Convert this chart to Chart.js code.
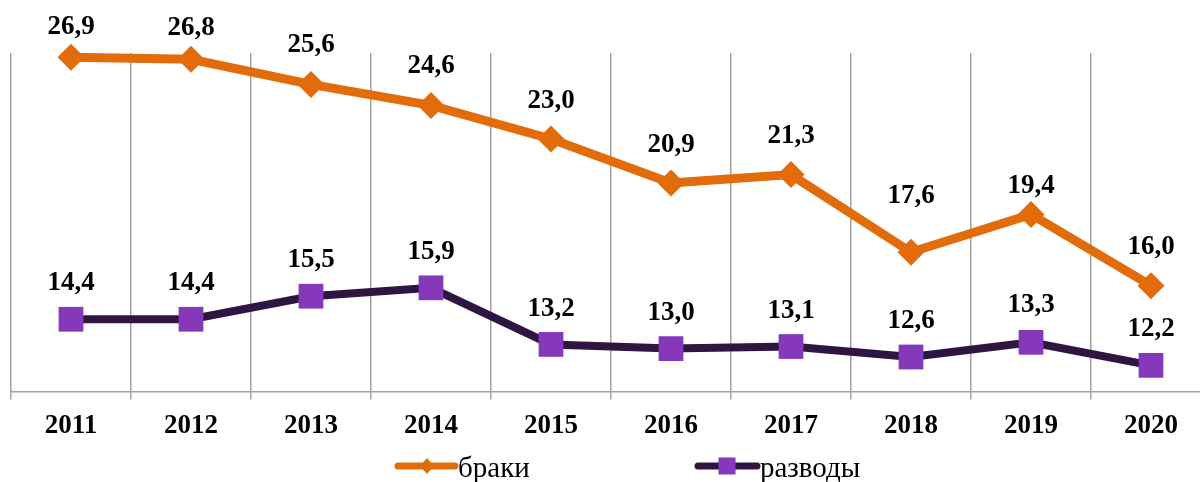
<!DOCTYPE html>
<html>
<head>
<meta charset="utf-8">
<script src="https://cdn.jsdelivr.net/npm/chart.js@4/dist/chart.umd.min.js"></script>
<style>
  html, body { margin: 0; padding: 0; background: #fff; overflow: hidden; }
  #wrap { width: 1212px; height: 482px; position: relative; }
</style>
</head>
<body>
<div id="wrap"><canvas id="myChart" width="1212" height="482"></canvas></div>
<script>
const years = ['2011', '2012', '2013', '2014', '2015', '2016', '2017', '2018', '2019', '2020'];
const braki = [26.9, 26.8, 25.6, 24.6, 23.0, 20.9, 21.3, 17.6, 19.4, 16.0];
const razvody = [14.4, 14.4, 15.5, 15.9, 13.2, 13.0, 13.1, 12.6, 13.3, 12.2];
const seriesNames = ['браки', 'разводы'];

// насколько подпись поднята над точкой (как вручную расставлено в оригинале)
const brakiLabelLift = [23, 24, 32, 32, 31, 31, 32, 49, 21, 32];
const razvodyLabelLift = [29, 29, 29, 29, 28, 29, 29, 29, 30, 29];

const fontFamily = '"Liberation Serif", "Times New Roman", serif';
const orange = '#E36C0A';
const darkPurple = '#2E1542';
const purple = '#8539BA';

// подписи значений над точками
const valueLabels = {
  id: 'valueLabels',
  afterDatasetsDraw (chart) {
    const ctx = chart.ctx;
    const lifts = [brakiLabelLift, razvodyLabelLift];
    ctx.save();
    ctx.font = 'bold 27px ' + fontFamily;
    ctx.fillStyle = '#000';
    ctx.textAlign = 'center';
    ctx.textBaseline = 'alphabetic';
    chart.data.datasets.forEach((ds, i) => {
      const meta = chart.getDatasetMeta(i);
      meta.data.forEach((pt, j) => {
        const txt = ds.data[j].toFixed(1).replace('.', ',');
        ctx.fillText(txt, pt.x, pt.y - lifts[i][j]);
      });
    });
    ctx.restore();
  }
};

// легенда внизу: линия с маркером + текст
const bottomLegend = {
  id: 'bottomLegend',
  afterDraw (chart) {
    const ctx = chart.ctx;
    const y = 466;
    const items = [
      { x: 398, w: 57, line: orange, marker: orange, style: 'diamond', text: seriesNames[0] },
      { x: 698, w: 59, line: darkPurple, marker: purple, style: 'square', text: seriesNames[1] }
    ];
    ctx.save();
    items.forEach(it => {
      ctx.strokeStyle = it.line;
      ctx.lineWidth = 7;
      ctx.lineCap = 'round';
      ctx.beginPath();
      ctx.moveTo(it.x, y);
      ctx.lineTo(it.x + it.w, y);
      ctx.stroke();
      const cx = it.x + 29;
      ctx.fillStyle = it.marker;
      if (it.style === 'diamond') {
        ctx.beginPath();
        ctx.moveTo(cx, y - 8);
        ctx.lineTo(cx + 7, y);
        ctx.lineTo(cx, y + 8);
        ctx.lineTo(cx - 7, y);
        ctx.closePath();
        ctx.fill();
      } else {
        ctx.fillRect(cx - 8.5, y - 8.5, 17, 17);
      }
      ctx.fillStyle = '#000';
      ctx.font = '29px ' + fontFamily;
      ctx.textAlign = 'left';
      ctx.textBaseline = 'alphabetic';
      ctx.fillText(it.text, it.x + it.w + 3, 477);
    });
    ctx.restore();
  }
};

const ctx = document.getElementById('myChart').getContext('2d');
const myChart = new Chart(ctx, {
  type: 'line',
  data: {
    labels: years,
    datasets: [{
      label: seriesNames[0],
      data: braki,
      borderColor: orange,
      backgroundColor: orange,
      borderWidth: 9,
      pointStyle: 'rectRot',
      pointRadius: 13.5,
      pointHoverRadius: 13.5,
      pointBorderWidth: 0,
      tension: 0,
      clip: false
    }, {
      label: seriesNames[1],
      data: razvody,
      borderColor: darkPurple,
      backgroundColor: purple,
      pointBackgroundColor: purple,
      borderWidth: 8,
      pointStyle: 'rect',
      pointRadius: 17.5,
      pointHoverRadius: 17.5,
      pointBorderWidth: 0,
      tension: 0,
      clip: false
    }]
  },
  options: {
    responsive: false,
    animation: false,
    events: [],
    layout: {
      autoPadding: false,
      padding: { top: 53, left: 11, right: 1, bottom: 30 }
    },
    plugins: {
      legend: { display: false },
      tooltip: { enabled: false }
    },
    scales: {
      x: {
        offset: true,
        afterFit (axis) {
          axis.paddingLeft = 0;
          axis.paddingRight = 0;
        },
        grid: {
          offset: true,
          color: '#a0a0a0',
          lineWidth: 1.5,
          tickLength: 8
        },
        border: { color: '#a0a0a0', width: 1.5 },
        ticks: {
          color: '#000',
          padding: 10,
          font: { family: fontFamily, size: 27, weight: 'bold' }
        }
      },
      y: {
        display: false,
        min: 10.95,
        max: 27.1
      }
    }
  },
  plugins: [valueLabels, bottomLegend]
});
</script>
</body>
</html>
